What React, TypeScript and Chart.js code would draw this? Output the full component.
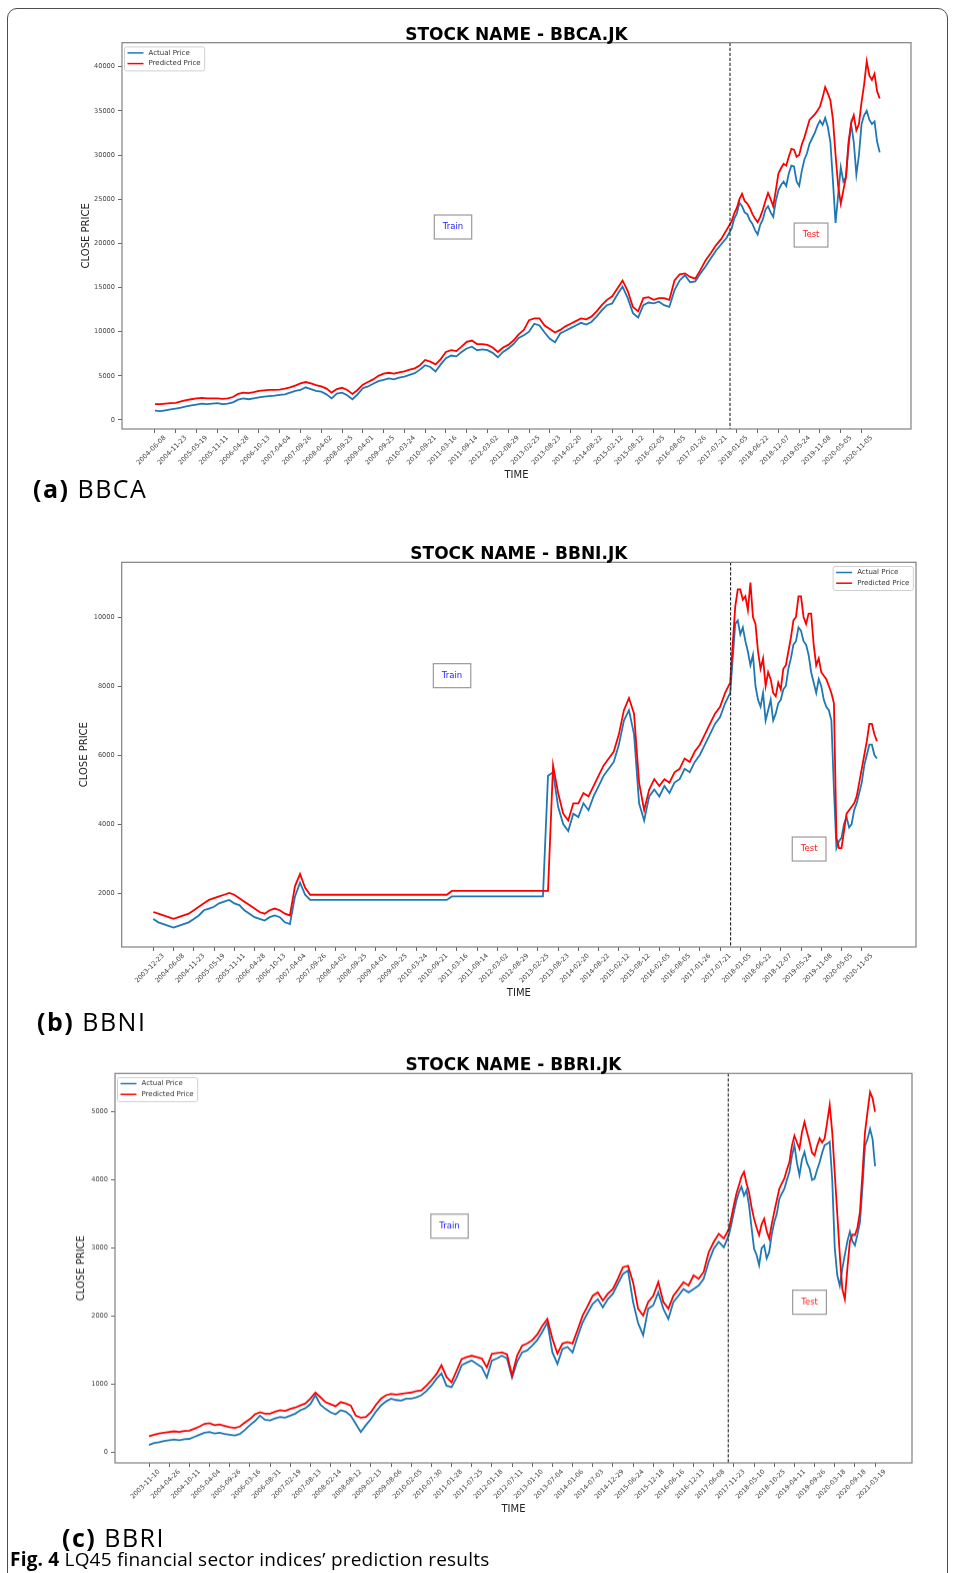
import { useEffect, useRef } from "react";
import { Chart, registerables } from "chart.js";

Chart.register(...registerables);
Chart.defaults.font.family = '"DejaVu Sans", sans-serif';

// train samples: one value every quarter of a tick interval; test samples: every eighth
const TRAIN_STEP = 0.25;
const TEST_STEP = 0.125;

// ---------------- BBCA ----------------
const bbcaDates = [
  "2004-06-08", "2004-11-23", "2005-05-19", "2005-11-11", "2006-04-28", "2006-10-13", "2007-04-04",
  "2007-09-26", "2008-04-02", "2008-09-25", "2009-04-01", "2009-09-25", "2010-03-24", "2010-09-21",
  "2011-03-16", "2011-09-14", "2012-03-02", "2012-08-29", "2013-02-25", "2013-08-23", "2014-02-20",
  "2014-08-22", "2015-02-12", "2015-08-12", "2016-02-05", "2016-08-05", "2017-01-26", "2017-07-21",
  "2018-01-05", "2018-06-22", "2018-12-07", "2019-05-24", "2019-11-08", "2020-05-05", "2020-11-05",
];
const bbcaTrainActual = [
  1050, 1000, 1100, 1200, 1300, 1400, 1550, 1650, 1750, 1850, 1800, 1850, 1900, 1800, 1850, 2000,
  2300, 2450, 2350, 2450, 2550, 2650, 2700, 2750, 2850, 2900, 3100, 3300, 3400, 3700, 3500, 3300,
  3200, 2900, 2450, 3000, 3100, 2800, 2350, 2900, 3600, 3800, 4100, 4400, 4550, 4700, 4600, 4800,
  4900, 5100, 5300, 5700, 6200, 6000, 5500, 6300, 7000, 7300, 7200, 7700, 8100, 8300, 7900, 8000,
  7900, 7600, 7100, 7700, 8100, 8600, 9300, 9600, 10000, 10900, 10700, 9900, 9200, 8800, 9800, 10100,
  10400, 10700, 11000, 10800, 11100, 11700, 12400, 13000, 13200, 14200, 15100, 13800, 12100, 11600, 13000, 13300,
  13200, 13400, 13000, 12800, 14700, 15800, 16400, 15600, 15700, 16600, 17400, 18300, 19200, 19900, 20600,
];
const bbcaTrainPredicted = [
  1800, 1800, 1850, 1900, 1950, 2100, 2250, 2350, 2450, 2500, 2450, 2450, 2450, 2400, 2450, 2600,
  2950, 3100, 3050, 3150, 3300, 3350, 3400, 3400, 3450, 3550, 3700, 3900, 4150, 4300, 4150, 3950,
  3800, 3550, 3100, 3500, 3650, 3400, 2950, 3400, 4000, 4300, 4600, 5000, 5250, 5350, 5250, 5400,
  5500, 5700, 5850, 6200, 6800, 6600, 6300, 6900, 7700, 7900, 7800, 8300, 8850, 9000, 8600, 8600,
  8500, 8200, 7700, 8200, 8500, 9000, 9700, 10200, 11300, 11500, 11500, 10700, 10300, 9900, 10200, 10600,
  10900, 11200, 11500, 11400, 11700, 12300, 13000, 13600, 14000, 14900, 15800, 14600, 12800, 12300, 13800, 13900,
  13600, 13800, 13800, 13600, 15800, 16500, 16600, 16200, 16000, 17000, 18100, 18900, 19800, 20500, 21500,
];
const bbcaTestActual = [
  21700, 22800, 23400, 24600, 24200, 23500, 23300, 22600, 22200, 21500, 21000, 22100, 22700, 23800, 24200, 23500,
  23000, 24800, 26000, 26600, 27000, 26500, 27900, 28800, 28700, 27000, 26500, 28200, 29500, 30200, 31300, 31900,
  32500, 33300, 33900, 33400, 34200, 33200, 31500, 27000, 22300, 25500, 28600, 27000, 27500, 31000, 33500, 31500,
  27800, 30000, 33500, 34500, 35000, 34000, 33500, 33800, 31500, 30300,
];
const bbcaTestPredicted = [
  22500, 23400, 24000, 25000, 25600, 24800, 24500, 24000, 23300, 22800, 22400, 23000, 23800, 24800, 25700, 25000,
  24200, 26000, 27900, 28500, 29000, 28800, 29800, 30700, 30600, 29800, 30000, 31200, 32000, 33000, 34000, 34300,
  34600, 35000, 35500, 36500, 37700, 37000, 36200, 34000, 30000, 26500, 24500, 26000, 27500, 31500, 33600, 34500,
  32800, 33500, 36000, 38000, 40600, 39000, 38500, 39200, 37200, 36400,
];
const bbcaYTicks = [0, 5000, 10000, 15000, 20000, 25000, 30000, 35000, 40000];
const bbcaSplit = 27.67;
const bbcaTrainAt = [14.34, 21850];
const bbcaTestAt = [31.57, 20940];

// ---------------- BBNI ----------------
const bbniDates = [
  "2003-12-23", "2004-06-08", "2004-11-23", "2005-05-19", "2005-11-11", "2006-04-28", "2006-10-13",
  "2007-04-04", "2007-09-26", "2008-04-02", "2008-09-25", "2009-04-01", "2009-09-25", "2010-03-24",
  "2010-09-21", "2011-03-16", "2011-09-14", "2012-03-02", "2012-08-29", "2013-02-25", "2013-08-23",
  "2014-02-20", "2014-08-22", "2015-02-12", "2015-08-12", "2016-02-05", "2016-08-05", "2017-01-26",
  "2017-07-21", "2018-01-05", "2018-06-22", "2018-12-07", "2019-05-24", "2019-11-08", "2020-05-05",
  "2020-11-05",
];
const bbniTrainActual = [
  1250, 1150, 1100, 1050, 1000, 1050, 1100, 1150, 1250, 1350, 1500, 1550, 1600, 1700, 1750, 1800,
  1700, 1650, 1500, 1400, 1300, 1250, 1200, 1300, 1350, 1300, 1150, 1100, 1900, 2300, 1950, 1800,
  1800, 1800, 1800, 1800, 1800, 1800, 1800, 1800, 1800, 1800, 1800, 1800, 1800, 1800, 1800, 1800,
  1800, 1800, 1800, 1800, 1800, 1800, 1800, 1800, 1800, 1800, 1800, 1900, 1900, 1900, 1900, 1900,
  1900, 1900, 1900, 1900, 1900, 1900, 1900, 1900, 1900, 1900, 1900, 1900, 1900, 1900, 5400, 5500,
  4500, 4000, 3800, 4300, 4200, 4600, 4400, 4800, 5100, 5400, 5600, 5800, 6300, 7000, 7300, 6600,
  4600, 4100, 4800, 5000, 4800, 5100, 4900, 5200, 5300, 5600, 5500, 5800, 6000, 6300, 6600, 6900,
  7100, 7500, 7800,
];
const bbniTrainPredicted = [
  1450, 1400, 1350, 1300, 1250, 1300, 1350, 1400, 1500, 1600, 1700, 1800, 1850, 1900, 1950, 2000,
  1950, 1850, 1750, 1650, 1550, 1450, 1400, 1500, 1550, 1500, 1400, 1350, 2200, 2550, 2150, 1950,
  1950, 1950, 1950, 1950, 1950, 1950, 1950, 1950, 1950, 1950, 1950, 1950, 1950, 1950, 1950, 1950,
  1950, 1950, 1950, 1950, 1950, 1950, 1950, 1950, 1950, 1950, 1950, 2060, 2060, 2060, 2060, 2060,
  2060, 2060, 2060, 2060, 2060, 2060, 2060, 2060, 2060, 2060, 2060, 2060, 2060, 2060, 2060, 5700,
  4900, 4300, 4100, 4600, 4600, 4900, 4800, 5100, 5400, 5700, 5900, 6100, 6600, 7300, 7650, 7200,
  5200, 4400, 5000, 5300, 5100, 5300, 5200, 5500, 5600, 5900, 5800, 6100, 6300, 6600, 6900, 7200,
  7400, 7800, 8100,
];
const bbniTestActual = [
  9800, 9900, 9500, 9700, 9300, 9000, 8600, 8900, 8000, 7600, 7400, 7800, 7000, 7300, 7600, 7000,
  7200, 7500, 7600, 7900, 8000, 8500, 8800, 9200, 9300, 9700, 9600, 9300, 9200, 8900, 8400, 8100,
  7800, 8200, 8000, 7600, 7400, 7300, 7000, 5000, 3300, 3500, 3600, 4000, 4200, 3900, 4000, 4400,
  4600, 4900, 5200, 5700, 6000, 6300, 6300, 6000, 5900,
];
const bbniTestPredicted = [
  10300, 10800, 10800, 10500, 10600, 10200, 11000, 10000, 9800, 9000, 8500, 8800, 8000, 8400, 8200, 7800,
  7700, 8100, 7900, 8500, 8600, 9000, 9400, 9900, 10000, 10600, 10600, 10000, 9800, 10100, 10100, 9200,
  8600, 8800, 8400, 8300, 8200, 8000, 7800, 7500, 3600, 3300, 3300, 3800, 4300, 4400, 4500, 4600,
  4800, 5200, 5600, 6000, 6400, 6900, 6900, 6600, 6400,
];
const bbniYTicks = [2000, 4000, 6000, 8000, 10000];
const bbniSplit = 28.52;
const bbniTrainAt = [14.76, 8300];
const bbniTestAt = [32.4, 3275];

// ---------------- BBRI ----------------
const bbriDates = [
  "2003-11-10", "2004-04-26", "2004-10-11", "2005-04-04", "2005-09-26", "2006-03-16", "2006-08-31",
  "2007-02-19", "2007-08-13", "2008-02-14", "2008-08-12", "2009-02-13", "2009-08-06", "2010-02-05",
  "2010-07-30", "2011-01-28", "2011-07-25", "2012-01-18", "2012-07-11", "2013-01-10", "2013-07-04",
  "2014-01-06", "2014-07-03", "2014-12-29", "2015-06-24", "2015-12-18", "2016-06-16", "2016-12-13",
  "2017-06-08", "2017-11-23", "2018-05-10", "2018-10-25", "2019-04-11", "2019-09-26", "2020-03-18",
  "2020-09-18", "2021-03-19",
];
const bbriTrainActual = [
  110, 140, 150, 170, 180, 190, 180, 195, 200, 230, 260, 290, 300, 280, 290, 270,
  260, 250, 270, 330, 400, 460, 540, 480, 470, 500, 520, 510, 540, 570, 620, 650,
  710, 840, 700, 640, 590, 560, 620, 600, 540, 420, 300, 400, 490, 600, 690, 750,
  790, 770, 760, 790, 790, 810, 840, 900, 980, 1080, 1160, 980, 960, 1100, 1280, 1320,
  1350, 1300, 1250, 1100, 1350, 1380, 1420, 1380, 1100, 1330, 1470, 1500, 1570, 1650, 1770, 1910,
  1470, 1300, 1520, 1550, 1470, 1700, 1910, 2050, 2180, 2250, 2130, 2250, 2330, 2480, 2620, 2670,
  2210, 1900, 1720, 2110, 2160, 2350, 2110, 1960, 2210, 2300, 2400, 2350, 2400, 2450, 2550, 2800,
  2990, 3090, 3010,
];
const bbriTrainPredicted = [
  240, 260, 280, 290, 300, 310, 300, 315, 320, 350, 380, 420, 430, 400, 410, 390,
  370, 360, 380, 440, 490, 560, 590, 570, 570, 600, 620, 610, 640, 660, 690, 720,
  790, 880, 810, 740, 710, 680, 740, 720, 690, 540, 510, 520, 590, 700, 790, 840,
  860, 850, 860, 870, 880, 900, 910, 980, 1060, 1150, 1280, 1110, 1030, 1200, 1370, 1400,
  1420, 1400, 1380, 1250, 1450, 1460, 1470, 1440, 1130, 1420, 1570, 1600, 1650, 1730, 1860, 1960,
  1670, 1450, 1600, 1620, 1600, 1800, 2010, 2150, 2300, 2350, 2230, 2330, 2400, 2550, 2720, 2740,
  2500, 2110, 2010, 2210, 2300, 2500, 2210, 2110, 2300, 2400, 2500, 2450, 2600, 2550, 2650, 2940,
  3090, 3210, 3140,
];
const bbriTestActual = [
  3190, 3350, 3530, 3700, 3820, 3900, 3770, 3850, 3630, 3300, 2990, 2900, 2750, 3000, 3040, 2850,
  2940, 3200, 3380, 3500, 3720, 3800, 3870, 4000, 4120, 4350, 4510, 4250, 4070, 4300, 4410, 4250,
  4170, 4000, 4020, 4150, 4260, 4400, 4510, 4530, 4560, 4000, 3000, 2600, 2450, 2700, 2900, 3100,
  3240, 3100, 3040, 3200, 3380, 3900, 4500, 4600, 4750, 4600, 4200,
];
const bbriTestPredicted = [
  3280, 3450, 3630, 3800, 3920, 4050, 4120, 3950, 3820, 3600, 3430, 3300, 3190, 3350, 3430, 3250,
  3140, 3350, 3530, 3700, 3870, 3950, 4020, 4150, 4260, 4500, 4650, 4550, 4460, 4700, 4850, 4700,
  4560, 4400, 4360, 4500, 4610, 4550, 4610, 4850, 5100, 4700, 4100, 3500, 2900, 2400, 2250, 2700,
  3100, 3200, 3190, 3300, 3530, 4100, 4700, 5000, 5290, 5200, 5000,
];
const bbriYTicks = [0, 1000, 2000, 3000, 4000, 5000];
const bbriSplit = 28.72;
const bbriTrainAt = [14.9, 3322];
const bbriTestAt = [32.75, 2206];

// ---------------- layout ----------------
type Geo = {
  canvasTop: number;
  plotTop: number;
  plotBottom: number;
  plotLeft: number;
  plotRight: number;
  yTitleX: number;
  legend: "left" | "right";
};

type Props = {
  title: string;
  dates: string[];
  trainActual: number[];
  trainPredicted: number[];
  testActual: number[];
  testPredicted: number[];
  yTicks: number[];
  xRange: [number, number];
  yRange: [number, number];
  split: number;
  trainAt: number[];
  testAt: number[];
  geo: Geo;
};

const W = 955;
const X_AXIS_H = 60;

function drawTag(ctx: CanvasRenderingContext2D, text: string, color: string, cx: number, cy: number) {
  ctx.font = '8.5px "DejaVu Sans"';
  const tw = ctx.measureText(text).width;
  const w = tw + 17;
  const h = 24;
  ctx.fillStyle = "#ffffff";
  ctx.fillRect(cx - w / 2, cy - h / 2, w, h);
  ctx.strokeStyle = "#9a9a9a";
  ctx.lineWidth = 1.2;
  ctx.strokeRect(cx - w / 2, cy - h / 2, w, h);
  ctx.fillStyle = color;
  ctx.textAlign = "center";
  ctx.textBaseline = "middle";
  ctx.fillText(text, cx, cy);
}

function drawLegend(ctx: CanvasRenderingContext2D, a: any, corner: "left" | "right") {
  const labels = ["Actual Price", "Predicted Price"];
  const colors = ["#1f77b4", "#ff0000"];
  ctx.font = '7px "DejaVu Sans"';
  const tw = Math.max(...labels.map((l) => ctx.measureText(l).width));
  const w = 24 + tw + 4;
  const h = 24;
  const x0 = corner === "left" ? a.left + 2.5 : a.right - 2.7 - w;
  const y0 = a.top + 4.2;
  ctx.beginPath();
  ctx.roundRect(x0, y0, w, h, 2);
  ctx.fillStyle = "rgba(255,255,255,0.85)";
  ctx.fill();
  ctx.strokeStyle = "#d0d0d0";
  ctx.lineWidth = 1;
  ctx.stroke();
  labels.forEach((l, i) => {
    const yy = y0 + 6 + i * 10.7;
    ctx.strokeStyle = colors[i];
    ctx.lineWidth = 1.5;
    ctx.beginPath();
    ctx.moveTo(x0 + 3, yy);
    ctx.lineTo(x0 + 19, yy);
    ctx.stroke();
    ctx.fillStyle = "#333333";
    ctx.textAlign = "left";
    ctx.textBaseline = "middle";
    ctx.fillText(l, x0 + 24, yy);
  });
}

function toPoints(train: number[], test: number[]) {
  const testStart = train.length * TRAIN_STEP;
  return [
    ...train.map((v, i) => ({ x: i * TRAIN_STEP, y: v })),
    ...test.map((v, i) => ({ x: testStart + i * TEST_STEP, y: v })),
  ];
}

function StockChart(p: Props) {
  const ref = useRef<HTMLCanvasElement | null>(null);
  const g = p.geo;
  const canvasH = g.plotBottom - g.canvasTop + X_AXIS_H;

  useEffect(() => {
    if (!ref.current) return;
    const overlay = {
      id: "overlay",
      afterDatasetsDraw(chart: any) {
        const { ctx, chartArea: a, scales } = chart;
        const x = scales.x;
        const y = scales.y;
        ctx.save();
        const sx = x.getPixelForValue(p.split);
        ctx.strokeStyle = "#222222";
        ctx.lineWidth = 1.1;
        ctx.setLineDash([3.2, 1.8]);
        ctx.beginPath();
        ctx.moveTo(sx, a.top);
        ctx.lineTo(sx, a.bottom);
        ctx.stroke();
        ctx.setLineDash([]);
        ctx.strokeStyle = "#808080";
        ctx.lineWidth = 1.2;
        ctx.strokeRect(a.left, a.top, a.right - a.left, a.bottom - a.top);
        drawTag(ctx, "Train", "#1a1aff", x.getPixelForValue(p.trainAt[0]), y.getPixelForValue(p.trainAt[1]));
        drawTag(ctx, "Test", "#ff2020", x.getPixelForValue(p.testAt[0]), y.getPixelForValue(p.testAt[1]));
        drawLegend(ctx, a, g.legend);
        ctx.font = 'bold 17px "DejaVu Sans"';
        ctx.fillStyle = "#000000";
        ctx.textAlign = "center";
        ctx.textBaseline = "alphabetic";
        ctx.fillText(p.title, (a.left + a.right) / 2, a.top - 3.2);
        ctx.restore();
      },
    };

    const chart = new Chart(ref.current, {
      type: "line",
      data: {
        datasets: [
          {
            label: "Predicted Price",
            data: toPoints(p.trainPredicted, p.testPredicted),
            borderColor: "#ff0000",
            borderWidth: 1.8,
            pointRadius: 0,
            order: 1,
          },
          {
            label: "Actual Price",
            data: toPoints(p.trainActual, p.testActual),
            borderColor: "#1f77b4",
            borderWidth: 1.8,
            pointRadius: 0,
            order: 2,
          },
        ],
      },
      options: {
        animation: false,
        responsive: false,
        maintainAspectRatio: false,
        layout: {
          padding: { top: g.plotTop - g.canvasTop, left: 0, right: W - g.plotRight, bottom: 0 },
        },
        plugins: {
          legend: { display: false },
          title: { display: false },
          tooltip: { enabled: false },
        },
        scales: {
          x: {
            type: "linear",
            min: p.xRange[0],
            max: p.xRange[1],
            afterBuildTicks: (s: any) => {
              s.ticks = p.dates.map((_, i) => ({ value: i }));
            },
            afterFit: (s: any) => {
              s.height = X_AXIS_H;
            },
            ticks: {
              autoSkip: false,
              minRotation: 45,
              maxRotation: 45,
              labelOffset: 10,
              padding: 1,
              color: "#444444",
              font: { size: 6.6 },
              callback: (v: any) => p.dates[Math.round(Number(v))] ?? "",
            },
            grid: { drawOnChartArea: false, tickLength: 4, color: "#666666" },
            border: { display: false },
            title: {
              display: true,
              text: "TIME",
              color: "#222222",
              font: { size: 10 },
              padding: { top: 0, bottom: 8 },
            },
          },
          y: {
            type: "linear",
            min: p.yRange[0],
            max: p.yRange[1],
            afterBuildTicks: (s: any) => {
              s.ticks = p.yTicks.map((v) => ({ value: v }));
            },
            afterFit: (s: any) => {
              s.width = g.plotLeft;
            },
            ticks: {
              color: "#444444",
              font: { size: 6.6 },
              padding: 3,
              callback: (v: any) => String(v),
            },
            grid: { drawOnChartArea: false, tickLength: 4, color: "#666666" },
            border: { display: false },
            title: {
              display: true,
              text: "CLOSE PRICE",
              color: "#222222",
              font: { size: 10 },
              padding: { top: g.yTitleX - 6, bottom: 0 },
            },
          },
        },
      },
      plugins: [overlay],
    } as any);
    return () => chart.destroy();
  }, []);

  return (
    <canvas
      ref={ref}
      width={W}
      height={canvasH}
      style={{ position: "absolute", left: 0, top: g.canvasTop, width: W, height: canvasH }}
    />
  );
}

const captionFont = '"Open Sans", "Noto Sans", sans-serif';

function SubCaption({ tag, name, left, top }: { tag: string; name: string; left: number; top: number }) {
  return (
    <div
      style={{
        position: "absolute",
        left,
        top,
        fontFamily: captionFont,
        fontSize: 25,
        lineHeight: "25px",
        letterSpacing: 1.5,
        color: "#000",
        whiteSpace: "nowrap",
      }}
    >
      <b>{tag}</b> {name}
    </div>
  );
}

export default function App() {
  return (
    <div
      style={{
        position: "absolute",
        left: 0,
        top: 0,
        width: W,
        height: 1573,
        overflow: "hidden",
        background: "#ffffff",
      }}
    >
      <div
        style={{
          position: "absolute",
          left: 7,
          top: 8,
          width: 941,
          height: 1640,
          border: "1.5px solid #4d4d4d",
          borderRadius: 10,
          boxSizing: "border-box",
        }}
      />
      <StockChart
        title="STOCK NAME - BBCA.JK"
        dates={bbcaDates}
        trainActual={bbcaTrainActual}
        trainPredicted={bbcaTrainPredicted}
        testActual={bbcaTestActual}
        testPredicted={bbcaTestPredicted}
        yTicks={bbcaYTicks}
        xRange={[-1.588, 36.38]}
        yRange={[-1019, 42717]}
        split={bbcaSplit}
        trainAt={bbcaTrainAt}
        testAt={bbcaTestAt}
        geo={{ canvasTop: 0, plotTop: 42.7, plotBottom: 429, plotLeft: 122, plotRight: 911, yTitleX: 86, legend: "left" }}
      />
      <StockChart
        title="STOCK NAME - BBNI.JK"
        dates={bbniDates}
        trainActual={bbniTrainActual}
        trainPredicted={bbniTrainPredicted}
        testActual={bbniTestActual}
        testPredicted={bbniTestPredicted}
        yTicks={bbniYTicks}
        xRange={[-1.561, 37.68]}
        yRange={[435, 11586]}
        split={bbniSplit}
        trainAt={bbniTrainAt}
        testAt={bbniTestAt}
        geo={{ canvasTop: 505, plotTop: 562.3, plotBottom: 947, plotLeft: 121.7, plotRight: 916, yTitleX: 84, legend: "right" }}
      />
      <StockChart
        title="STOCK NAME - BBRI.JK"
        dates={bbriDates}
        trainActual={bbriTrainActual}
        trainPredicted={bbriTrainPredicted}
        testActual={bbriTestActual}
        testPredicted={bbriTestPredicted}
        yTicks={bbriYTicks}
        xRange={[-1.686, 37.83]}
        yRange={[-153, 5564]}
        split={bbriSplit}
        trainAt={bbriTrainAt}
        testAt={bbriTestAt}
        geo={{ canvasTop: 1030, plotTop: 1073.3, plotBottom: 1462.7, plotLeft: 115, plotRight: 912, yTitleX: 81, legend: "left" }}
      />
      <SubCaption tag="(a)" name="BBCA" left={33} top={476} />
      <SubCaption tag="(b)" name="BBNI" left={37} top={1009} />
      <SubCaption tag="(c)" name="BBRI" left={62} top={1525} />
      <div
        style={{
          position: "absolute",
          left: 10,
          top: 1550,
          fontFamily: captionFont,
          fontSize: 19,
          lineHeight: "19px",
          letterSpacing: 0.2,
          color: "#000",
          whiteSpace: "nowrap",
        }}
      >
        <b>Fig. 4</b> LQ45 financial sector indices’ prediction results
      </div>
    </div>
  );
}
